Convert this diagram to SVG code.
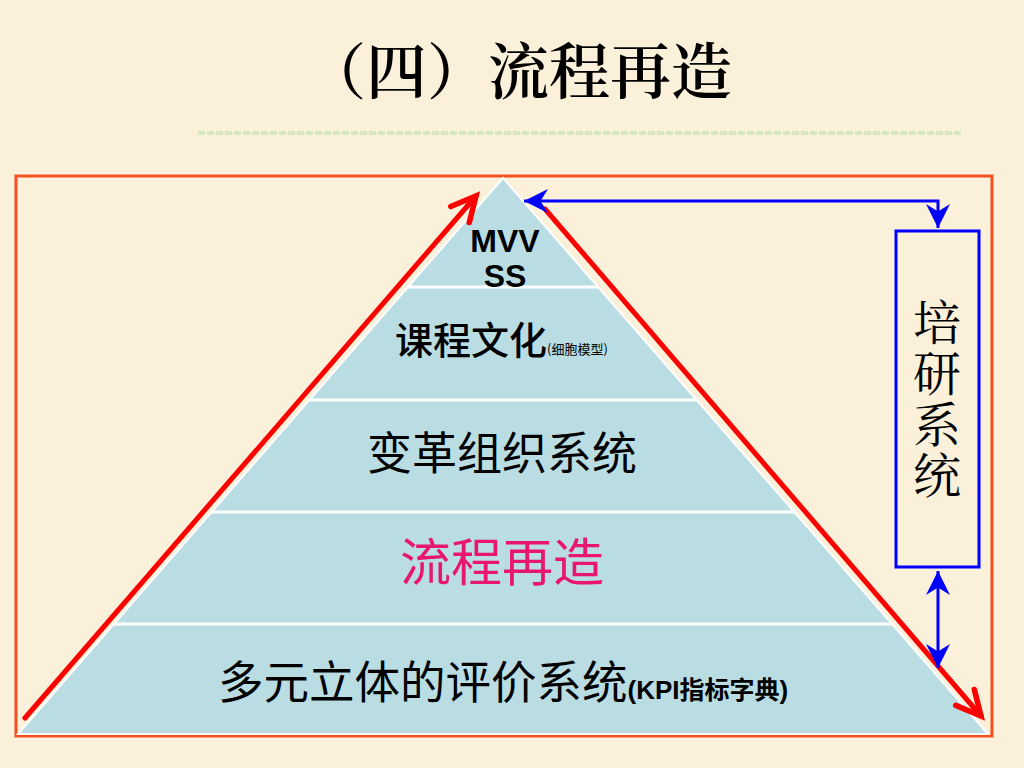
<svg xmlns="http://www.w3.org/2000/svg" width="1024" height="768" viewBox="0 0 1024 768">
  <style>
    .cjk { font-family: "Noto Sans CJK SC", "Noto Sans", sans-serif; fill: #000; }
    .song { font-family: "Noto Serif CJK SC", "Noto Sans CJK SC", serif; fill: #000; }
    .lat { font-family: "Liberation Sans", Arial, "Noto Sans CJK SC", sans-serif; font-weight: bold; fill: #000; }
    .divider { stroke: #ffffff; stroke-width: 3; }
    .red { stroke: #ff0000; stroke-width: 5; fill: none; stroke-linecap: round; }
    .blue { stroke: #0000ff; stroke-width: 3; fill: none; }
  </style>
  <defs>
    <marker id="redHead" markerUnits="userSpaceOnUse" markerWidth="40" markerHeight="40" viewBox="-30 -15 36 30" refX="0" refY="0" orient="auto">
      <path d="M -22 -11 L 0 0 L -22 11" fill="none" stroke="#ff0000" stroke-width="5" stroke-linecap="round" stroke-linejoin="miter"/>
    </marker>
    <marker id="blueHead" markerUnits="userSpaceOnUse" markerWidth="30" markerHeight="30" viewBox="-18 -10 20 20" refX="0" refY="0" orient="auto-start-reverse">
      <path d="M 0 0 L -16 -8 L -11 0 L -16 8 Z" fill="#0000ff"/>
    </marker>
  </defs>

  <rect x="0" y="0" width="1024" height="768" fill="#fbf0d9"/>

  <g id="title">
    <text class="song" x="305" y="94" font-size="61" font-weight="600">（四）流程再造</text>
    <line x1="198" y1="133" x2="963" y2="133" stroke="#d6e8bf" stroke-width="4" stroke-dasharray="7 2"/>
  </g>

  <g id="frame">
    <rect x="16" y="176" width="976" height="560" fill="none" stroke="#f24e1e" stroke-width="3"/>
  </g>

  <g id="pyramid">
    <polygon points="503,178 988,734 18,734" fill="#badde3" stroke="#ffffff" stroke-width="2"/>
    <line class="divider" x1="408" y1="287" x2="598" y2="287"/>
    <line class="divider" x1="309" y1="400" x2="697" y2="400"/>
    <line class="divider" x1="211" y1="512" x2="795" y2="512"/>
    <line class="divider" x1="113" y1="624" x2="893" y2="624"/>
  </g>

  <g id="layer-mvvss">
    <text class="lat" x="505" y="252" font-size="32" text-anchor="middle">MVV</text>
    <text class="lat" x="505" y="287" font-size="32" text-anchor="middle">SS</text>
  </g>

  <g id="layer-course">
    <text class="cjk" x="395" y="354" font-size="38" font-weight="500">课程文化<tspan font-size="13" font-weight="normal">(细胞模型)</tspan></text>
  </g>

  <g id="layer-org">
    <text class="cjk" x="367" y="470" font-size="45">变革组织系统</text>
  </g>

  <g id="layer-process">
    <text class="cjk" x="400" y="581" font-size="51" style="fill:#e8166e">流程再造</text>
  </g>

  <g id="layer-eval">
    <text class="cjk" x="218" y="699" font-size="45.5">多元立体的评价系统<tspan font-size="26" font-weight="bold" style="font-family:'Liberation Sans', 'Noto Sans CJK SC', sans-serif">(KPI</tspan><tspan font-size="25" font-weight="bold">指标字典</tspan><tspan font-size="26" font-weight="bold" style="font-family:'Liberation Sans', sans-serif">)</tspan></text>
  </g>

  <g id="training">
    <rect class="blue" x="896" y="231" width="83" height="336"/>
    <text class="song" x="937" y="298" font-size="48" writing-mode="vertical-rl" letter-spacing="3">培研系统</text>
  </g>

  <g id="connectors">
    <line class="red" x1="25" y1="718" x2="476" y2="196" marker-end="url(#redHead)"/>
    <line class="red" x1="545" y1="209" x2="981" y2="716" marker-end="url(#redHead)"/>
    <path class="blue" d="M 524 201 L 938 201 L 938 228" marker-start="url(#blueHead)" marker-end="url(#blueHead)"/>
    <line class="blue" x1="938" y1="571" x2="938" y2="668" stroke-width="4" marker-start="url(#blueHead)" marker-end="url(#blueHead)"/>
  </g>
</svg>
